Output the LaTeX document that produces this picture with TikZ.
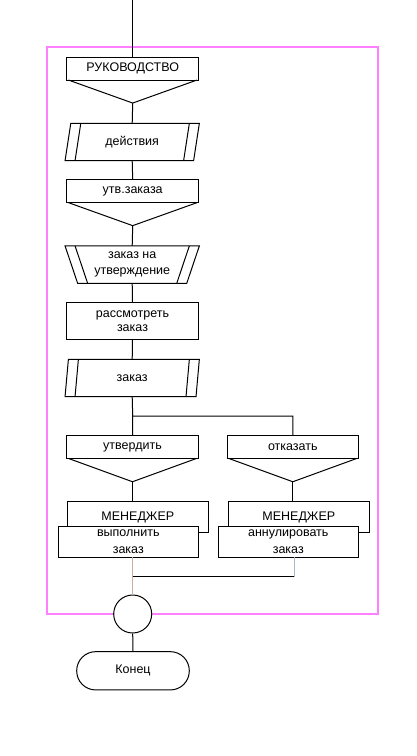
\documentclass[tikz,border=0pt]{standalone}
\usepackage{fontspec}
\setmainfont{Liberation Sans}
\usetikzlibrary{shapes.geometric,calc}
\definecolor{framepink}{RGB}{255,128,255}
\definecolor{linktan}{RGB}{200,176,156}
\definecolor{linkblue}{RGB}{164,184,206}

\tikzset{
	txt/.style={font=\fontsize{12.5}{16.5}\selectfont, align=center, inner sep=0pt, outer sep=0pt},
	evbox/.style={txt, draw, rectangle, minimum width=131.5pt, minimum height=22.7pt},
	funcbox/.style={txt, draw, rectangle, minimum width=131.5pt, minimum height=37.3pt},
	datapar/.style={txt, draw, trapezium, trapezium left angle=64, trapezium right angle=116, trapezium stretches body, minimum width=134.3pt, minimum height=37.4pt},
	datatrap/.style={datapar, trapezium left angle=116, trapezium right angle=116},
	orgbox/.style={txt, draw, rectangle, minimum width=141pt, minimum height=31pt},
	actbox/.style={txt, draw, fill=white, rectangle, minimum width=140pt, minimum height=31.3pt}
}

\begin{document}
\begin{tikzpicture}[x=1pt, y=-1pt, line width=1pt]

				\useasboundingbox (0,0) rectangle (416,756);

				\draw[framepink, line width=2pt] (47,46.7) rectangle (377.7,614);

				% management block
				\coordinate (start) at (132.7,0);
				\node[evbox] (ruk) at (132.7,68.7) {РУКОВОДСТВО};
				\coordinate (ruk-v) at ($(ruk.south)+(0,23)$);
				\draw ($(ruk.south west)+(1.5,0)$) -- (ruk-v) -- ($(ruk.south east)+(-1.5,0)$);
				\draw (start) -- (ruk.north);

				\node[datapar] (dei) at (132.2,142) {действия};
				\draw ($(dei.top left corner)+(10,0)$) -- ($(dei.bottom left corner)+(10,0)$);
				\draw ($(dei.top right corner)+(-10,0)$) -- ($(dei.bottom right corner)+(-10,0)$);
				\draw (ruk-v) -- (dei.north);

				\node[evbox] (utz) at (132.7,191.3) {утв.заказа};
				\coordinate (utz-v) at ($(utz.south)+(0,23)$);
				\draw ($(utz.south west)+(1.5,0)$) -- (utz-v) -- ($(utz.south east)+(-1.5,0)$);
				\draw (dei.south) -- (utz.north);

				\node[datatrap] (zna) at (132.2,264.6) {заказ на\\утверждение};
				\draw ($(zna.top left corner)+(10,0)$) -- ($(zna.bottom left corner)+(10,0)$);
				\draw ($(zna.top right corner)+(-10,0)$) -- ($(zna.bottom right corner)+(-10,0)$);
				\draw (utz-v) -- (zna.north);

				\node[funcbox, font=\fontsize{12.5}{14.5}\selectfont] (ras) at (132.5,321.3) {рассмотреть\\заказ};
				\draw (zna.south) -- (ras.north);

				\node[datapar] (zak) at (132.2,378) {заказ};
				\draw ($(zak.top left corner)+(10,0)$) -- ($(zak.bottom left corner)+(10,0)$);
				\draw ($(zak.top right corner)+(-10,0)$) -- ($(zak.bottom right corner)+(-10,0)$);
				\draw (ras.south) -- (zak.north);

				% two branches
				\coordinate (br) at (132.7,416);
				\node[evbox] (utv) at (132.5,447) {утвердить};
				\node[evbox] (otk) at (292.8,447) {отказать};
				\draw (zak.south) -- (br) -| (otk.north);
				\draw (br) -- (utv.north);

				\coordinate (utv-v) at ($(utv.south)+(0,23.4)$);
				\coordinate (otk-v) at ($(otk.south)+(0,23.4)$);
				\draw ($(utv.south west)+(1.5,0)$) -- (utv-v) -- ($(utv.south east)+(-1.5,0)$);
				\draw ($(otk.south west)+(1.5,0)$) -- (otk-v) -- ($(otk.south east)+(-1.5,0)$);

				\node[orgbox] (mgr1) at (137.8,517.2) {МЕНЕДЖЕР};
				\node[orgbox] (mgr2) at (298.8,517.2) {МЕНЕДЖЕР};
				\draw (utv-v) -- (utv-v |- mgr1.north);
				\draw (otk-v) -- (otk-v |- mgr2.north);

				\node[actbox] (act1) at (128.3,541.7) {выполнить\\заказ};
				\node[actbox] (act2) at (288.3,541.7) {аннулировать\\заказ};

				% merge
				\coordinate (jl) at (132.7,576.7);
				\coordinate (jr) at (294,576.7);
				\node[draw, circle, fill=white, minimum size=38pt, inner sep=0pt] (cir) at (132.7,614) {};
				\draw[linktan] (jl |- act1.south) -- (jl);
				\draw[linkblue] (jr |- act2.south) -- (jr);
				\draw (jl) -- (jr);
				\draw[linktan] (jl) -- (cir.north);

				\node[txt, draw, rounded corners=19pt, minimum width=112.6pt, minimum height=38.3pt] (kon) at (133,670.8) {Конец};
				\draw (cir.south) -- (kon.north);

\end{tikzpicture}
\end{document}
